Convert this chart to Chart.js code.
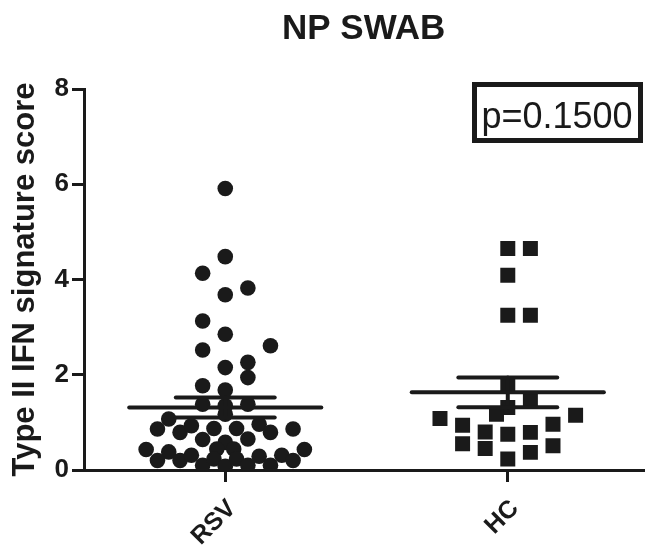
<!DOCTYPE html>
<html lang="en">

<head>
    <meta charset="UTF-8">
    <title>NP SWAB</title>
    <style>
        body {
            margin: 0;
            padding: 0;
            background-color: #fff;
        }
    </style>
</head>

<body>
    <canvas id="swab-chart" width="654" height="546"></canvas>

    <script src="https://cdn.jsdelivr.net/npm/chart.js"></script>
    <script>
        // groups shown on the x axis (placed at x = 1, 2)
        const groups = ['RSV', 'HC'];

        // RSV scores and their horizontal scatter offset (in group units)
        const rsvScores = [5.91, 4.48, 4.13, 3.82, 3.68, 3.13, 2.85, 2.61, 2.52, 2.26, 2.15, 1.94,
            1.77, 1.68, 1.38, 1.35, 1.38, 1.17, 1.07, 0.86, 0.79, 0.93, 0.87, 0.87, 0.96, 0.79, 0.86,
            0.64, 0.65, 0.58, 0.44, 0.44, 0.43, 0.38, 0.43,
            0.20, 0.20, 0.31, 0.10, 0.23, 0.08, 0.23, 0.10, 0.29, 0.10, 0.31, 0.20];
        const rsvOffsets = [0, 0, -0.08, 0.08, 0, -0.08, 0, 0.16, -0.08, 0.08, 0, 0.08,
            -0.08, 0, -0.08, 0, 0.08, 0, -0.20, -0.24, -0.16, -0.12, -0.04, 0.04, 0.12, 0.16, 0.24,
            -0.08, 0.08, 0, -0.03, 0.03, -0.28, -0.20, 0.28,
            -0.24, -0.16, -0.12, -0.08, -0.04, 0, 0.04, 0.08, 0.12, 0.16, 0.20, 0.24];

        // HC scores and offsets
        const hcScores = [4.65, 4.65, 4.09, 3.25, 3.25, 1.77, 1.45, 1.31, 1.17, 1.08, 1.15,
            0.96, 0.94, 0.80, 0.79, 0.75, 0.55, 0.51, 0.45, 0.37, 0.23];
        const hcOffsets = [0, 0.08, 0, 0, 0.08, 0, 0.08, 0, -0.04, -0.24, 0.24,
            0.16, -0.16, -0.08, 0.08, 0, -0.16, 0.16, -0.08, 0.08, 0];

        // mean and SEM per group, as drawn
        const groupMeans = [1.31, 1.63];
        const groupSems = [0.21, 0.31];

        const yTicks = [0, 2, 4, 6, 8];
        const pValueText = 'p=0.1500';

        const ink = '#1a1a1a';
        const fontFamily = "'Liberation Sans', Arial, sans-serif";

        function toPoints(scores, offsets, groupIndex) {
            return scores.map((v, i) => ({ x: groupIndex + 1 + offsets[i], y: v }));
        }

        function segment(x1, y1, x2, y2) {
            return {
                type: 'line',
                data: [{ x: x1, y: y1 }, { x: x2, y: y2 }],
                borderColor: ink,
                borderWidth: 4,
                borderCapStyle: 'round',
                pointRadius: 0,
                pointHoverRadius: 0,
                fill: false,
                order: 0
            };
        }

        const datasets = [{
            label: 'RSV',
            data: toPoints(rsvScores, rsvOffsets, 0),
            backgroundColor: ink,
            pointStyle: 'circle',
            pointRadius: 7.8,
            pointBorderWidth: 0,
            order: 1
        }, {
            label: 'HC',
            data: toPoints(hcScores, hcOffsets, 1),
            backgroundColor: ink,
            pointStyle: 'rect',
            pointRadius: 10.6,
            pointBorderWidth: 0,
            order: 1
        }];

        // mean line and SEM whiskers
        groupMeans.forEach((m, i) => {
            const cx = i + 1;
            const s = groupSems[i];
            datasets.push(segment(cx - 0.34, m, cx + 0.34, m));
            datasets.push(segment(cx - 0.175, m + s, cx + 0.175, m + s));
            datasets.push(segment(cx - 0.175, m - s, cx + 0.175, m - s));
            datasets.push(segment(cx, m - s, cx, m + s));
        });

        // boxed p value in the top right corner
        const pValueBox = {
            id: 'pValueBox',
            afterDraw(chart) {
                const ctx = chart.ctx;
                ctx.save();
                ctx.strokeStyle = ink;
                ctx.lineWidth = 5;
                ctx.strokeRect(474.5, 84.5, 166, 56);
                ctx.fillStyle = ink;
                ctx.font = '36px ' + fontFamily;
                ctx.textAlign = 'center';
                ctx.textBaseline = 'alphabetic';
                ctx.fillText(pValueText, 557, 128);
                ctx.restore();
            }
        };

        new Chart(document.getElementById('swab-chart'), {
            type: 'scatter',
            data: { datasets: datasets },
            plugins: [pValueBox],
            options: {
                responsive: false,
                animation: false,
                layout: { padding: { left: 0, right: 2, top: 0, bottom: 0 } },
                plugins: {
                    legend: { display: false },
                    tooltip: { enabled: false },
                    title: {
                        display: true,
                        text: 'NP SWAB',
                        color: ink,
                        fullSize: false,
                        font: { family: fontFamily, size: 35, weight: 'bold' },
                        padding: { top: 8, bottom: 39 }
                    }
                },
                scales: {
                    x: {
                        type: 'linear',
                        min: 0.5,
                        max: 2.48,
                        afterBuildTicks: scale => {
                            scale.ticks = groups.map((g, i) => ({ value: i + 1 }));
                        },
                        afterFit: scale => { scale.height = 76; },
                        ticks: {
                            color: ink,
                            font: { family: fontFamily, size: 25, weight: 'bold' },
                            minRotation: 45,
                            maxRotation: 45,
                            padding: 12,
                            labelOffset: 7,
                            callback: value => groups[value - 1]
                        },
                        grid: {
                            drawOnChartArea: false,
                            color: ink,
                            lineWidth: 3,
                            tickLength: 12
                        },
                        border: { color: ink, width: 3 }
                    },
                    y: {
                        min: 0,
                        max: 8,
                        afterBuildTicks: scale => {
                            scale.ticks = yTicks.map(v => ({ value: v }));
                        },
                        afterFit: scale => { scale.width = 84; },
                        ticks: {
                            color: ink,
                            font: { family: fontFamily, size: 26, weight: 'bold' },
                            padding: 3
                        },
                        title: {
                            display: true,
                            text: 'Type II IFN signature score',
                            color: ink,
                            font: { family: fontFamily, size: 31, weight: 'bold' },
                            padding: { top: 7, bottom: 0 }
                        },
                        grid: {
                            drawOnChartArea: false,
                            color: ink,
                            lineWidth: 3,
                            tickLength: 12
                        },
                        border: { color: ink, width: 3 }
                    }
                }
            }
        });
    </script>

</body>

</html>
